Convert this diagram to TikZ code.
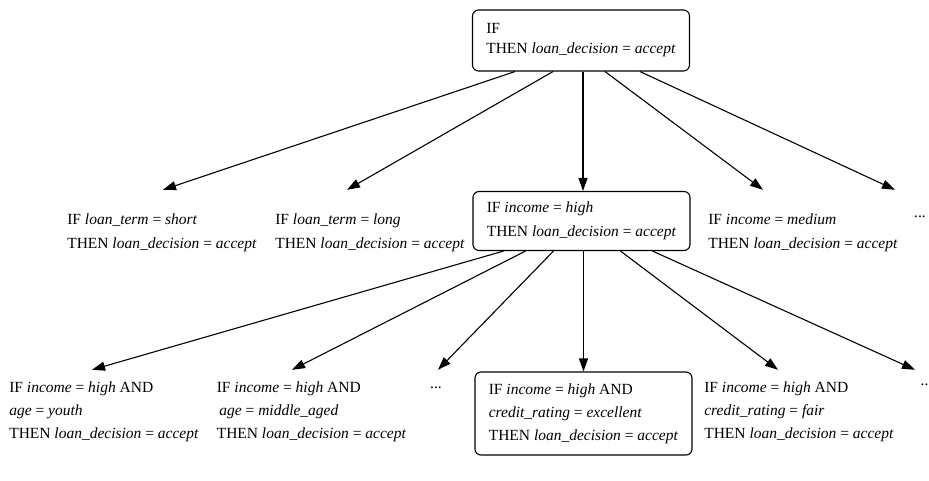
\documentclass[tikz,border=0pt]{standalone}
\usepackage{fontspec}
\setmainfont{Liberation Serif}
\usepackage{tikz}
\usetikzlibrary{arrows.meta}

\begin{document}
\begin{tikzpicture}[
                x=1pt, y=-1pt,
                >={Triangle[length=13pt,width=9pt]},
                rule/.style={align=left, inner xsep=0pt, font=\fontsize{15.5}{24}\selectfont},
                rulebox/.style={rule, draw, line width=1.1pt, rounded corners=6pt, minimum width=217pt},
                dots/.style={inner sep=0pt, font=\fontsize{15.5}{24}\selectfont},
                edge/.style={->, line width=1.1pt}
            ]
            \useasboundingbox (0,0) rectangle (929,480);

            % Top rule
            \node[rulebox, minimum height=61pt, font=\fontsize{15.5}{20}\selectfont] (root) at (581,40.5)
                {IF\\THEN \textit{loan\_decision} = \textit{accept}};

            % Second level
            \node[rule, minimum height=86pt] (short) at (162,233)
                {IF \textit{loan\_term} = \textit{short}\\THEN \textit{loan\_decision} = \textit{accept}};
            \node[rule, minimum height=86pt] (long) at (370,233)
                {IF \textit{loan\_term} = \textit{long}\\THEN \textit{loan\_decision} = \textit{accept}};
            \node[rulebox, minimum height=59pt] (high) at (581.5,221)
                {IF \textit{income} = \textit{high}\\THEN \textit{loan\_decision} = \textit{accept}};
            \node[rule, minimum height=86pt] (medium) at (803,233)
                {IF \textit{income} = \textit{medium}\\THEN \textit{loan\_decision} = \textit{accept}};
            \node[dots, minimum height=54pt] (more1) at (920,217) {...};

            \draw[edge] ([xshift=-66pt]root.south) -- ([xshift=1pt]short.north);
            \draw[edge] ([xshift=-28pt]root.south) -- ([xshift=-23pt]long.north);
            \draw[edge] ([xshift=2pt]root.south) -- ([xshift=1.5pt]high.north);
            \draw[edge] ([xshift=24pt]root.south) -- ([xshift=-40pt]medium.north);
            \draw[edge] ([xshift=59pt]root.south) -- ([xshift=-25pt]more1.north);

            % Third level
            \node[rule, minimum height=84pt, font=\fontsize{15.5}{23}\selectfont] (youth) at (104,412)
                {IF \textit{income} = \textit{high} AND\\\textit{age} = \textit{youth}\\THEN \textit{loan\_decision} = \textit{accept}};
            \node[rule, minimum height=84pt, font=\fontsize{15.5}{23}\selectfont] (middle) at (311.5,412)
                {IF \textit{income} = \textit{high} AND\\\,\textit{age} = \textit{middle\_aged}\\THEN \textit{loan\_decision} = \textit{accept}};
            \node[dots, minimum height=36pt] (more2) at (436,388) {...};
            \node[rulebox, minimum height=83pt, font=\fontsize{15.5}{23}\selectfont] (excellent) at (583.5,413.5)
                {IF \textit{income} = \textit{high} AND\\\textit{credit\_rating} = \textit{excellent}\\THEN \textit{loan\_decision} = \textit{accept}};
            \node[rule, minimum height=84pt, font=\fontsize{15.5}{23}\selectfont] (fair) at (799,412)
                {IF \textit{income} = \textit{high} AND\\\textit{credit\_rating} = \textit{fair}\\THEN \textit{loan\_decision} = \textit{accept}};
            \node[dots, minimum height=30pt] (more3) at (924.5,385) {..};

            \draw[edge] ([xshift=-78pt]high.south) -- ([xshift=-12pt]youth.north);
            \draw[edge] ([xshift=-56pt]high.south) -- ([xshift=-19.5pt]middle.north);
            \draw[edge] ([xshift=-28pt]high.south) -- ([xshift=2pt]more2.north);
            \draw[edge] ([xshift=2pt]high.south) -- (excellent.north);
            \draw[edge] ([xshift=39pt]high.south) -- ([xshift=-21pt]fair.north);
            \draw[edge] ([xshift=71pt]high.south) -- ([xshift=-9.5pt]more3.north);
            \end{tikzpicture}
\end{document}
